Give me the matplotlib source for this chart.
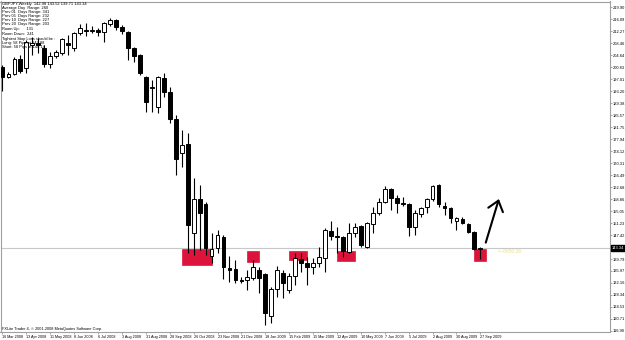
import matplotlib
matplotlib.use("Agg")
import matplotlib.pyplot as plt
from matplotlib.patches import Rectangle

plt.rcParams['font.family'] = ['Liberation Sans', 'DejaVu Sans']

# ---- data (weekly GBPJPY candles, week index 0 = 16 Mar 2008) ----
opens = [201.08, 197.89, 198.84, 203.63, 200.76, 208.10, 208.73, 207.14, 202.03, 204.59,
         205.54, 208.73, 207.14, 211.92, 212.88, 212.56, 212.88, 212.24, 214.79, 216.07,
         213.84, 212.24, 207.14, 204.90, 197.89, 194.38, 188.32, 197.60, 193.00, 184.50,
         173.64, 176.51, 148.12, 158.97, 157.37, 140.79, 143.34, 146.85, 136.96, 136.64,
         133.13, 133.13, 133.77, 136.32, 135.04, 121.65, 130.26, 135.36, 129.94, 134.41,
         139.83, 138.55, 137.28, 138.55, 140.15, 148.76, 147.17, 146.85, 142.06, 148.12,
         150.36, 143.66, 150.99, 154.50, 158.01, 162.16, 159.29, 157.69, 157.37, 150.04,
         154.18, 156.42, 158.97, 163.43, 156.74, 156.10, 151.95, 152.59, 150.99, 148.44,
         142.98]
highs = [201.72, 199.48, 204.27, 204.90, 209.69, 210.65, 210.33, 208.10, 205.86, 206.50,
         210.33, 211.29, 212.24, 214.79, 215.11, 214.16, 213.52, 215.43, 216.71, 216.39,
         214.48, 212.50, 207.46, 205.20, 198.20, 196.93, 198.20, 199.00, 194.50, 185.50,
         180.98, 180.02, 165.67, 163.43, 157.90, 148.12, 149.08, 147.40, 140.79, 139.51,
         134.09, 136.32, 139.51, 137.28, 135.40, 130.90, 137.60, 136.32, 135.36, 141.74,
         141.74, 140.47, 140.15, 143.66, 149.72, 151.95, 150.04, 147.20, 151.31, 151.31,
         150.70, 151.50, 156.42, 159.29, 163.12, 162.48, 160.25, 159.61, 157.60, 155.46,
         156.42, 159.29, 163.43, 163.60, 158.01, 156.30, 153.23, 153.23, 151.31, 148.80,
         143.52]
lows = [193.42, 197.57, 198.53, 199.16, 199.16, 204.90, 205.54, 201.08, 200.76, 203.95,
        204.90, 204.90, 206.18, 211.29, 210.97, 211.92, 210.97, 209.05, 214.16, 212.88,
        211.60, 203.31, 202.67, 198.53, 186.72, 186.72, 186.40, 191.50, 183.00, 166.63,
        169.18, 141.74, 141.11, 142.70, 141.11, 138.55, 141.74, 133.45, 132.49, 132.17,
        132.17, 129.94, 133.13, 128.98, 118.78, 119.41, 127.71, 127.39, 128.98, 131.54,
        135.68, 131.54, 135.04, 137.28, 135.68, 145.89, 141.74, 140.47, 141.74, 146.85,
        143.66, 143.40, 148.12, 153.87, 157.69, 155.46, 154.50, 156.74, 147.17, 147.49,
        153.23, 154.50, 158.33, 156.42, 153.87, 151.31, 149.08, 150.99, 148.12, 142.70,
        139.71]
closes = [197.89, 198.84, 203.63, 199.80, 209.05, 208.73, 208.10, 202.03, 204.59, 205.86,
          210.01, 208.10, 211.92, 213.52, 212.56, 212.88, 212.24, 215.11, 216.07, 213.84,
          212.56, 207.14, 204.59, 199.16, 189.91, 194.70, 197.89, 193.00, 184.50, 171.73,
          176.20, 150.67, 158.97, 154.50, 143.34, 143.02, 147.49, 137.28, 136.32, 133.13,
          132.81, 134.09, 137.28, 133.77, 122.60, 130.26, 136.32, 132.17, 134.41, 140.15,
          138.55, 137.28, 138.55, 140.47, 149.08, 147.17, 146.85, 142.38, 148.12, 150.04,
          144.30, 151.31, 154.50, 158.01, 162.16, 159.29, 157.69, 157.37, 150.04, 154.50,
          156.10, 158.97, 163.12, 157.37, 156.10, 152.91, 152.91, 151.31, 148.44, 143.10,
          143.34]

date_labels = ["16 Mar 2008", "13 Apr 2008", "11 May 2008", "8 Jun 2008", "6 Jul 2008",
               "3 Aug 2008", "31 Aug 2008", "28 Sep 2008", "26 Oct 2008", "23 Nov 2008",
               "21 Dec 2008", "18 Jan 2009", "15 Feb 2009", "15 Mar 2009", "12 Apr 2009",
               "10 May 2009", "7 Jun 2009", "5 Jul 2009", "2 Aug 2009", "30 Aug 2009",
               "27 Sep 2009"]
label_step = 4

price_ticks = [219.90, 216.09, 212.27, 208.46, 204.64, 200.83, 197.01, 193.20, 189.38,
               185.57, 181.75, 177.94, 174.12, 170.31, 166.49, 162.68, 158.86, 155.05,
               151.23, 147.42, 139.79, 135.97, 132.16, 128.34, 124.53, 120.71, 116.90]

# support zones: start week, end week, low price, high price
zone_start = [30, 41, 48, 56, 79]
zone_end = [35, 43, 51, 59, 81]
zone_low = [137.92, 138.97, 139.51, 139.19, 139.19]
zone_high = [143.02, 142.47, 142.38, 142.38, 143.02]

bid_price = 143.34
header = "GBPJPY,Weekly  142.98 143.52 139.71 143.34"
info_lines = ["Average Day  Range: 260", "Prev 01  Days Range: 341",
              "Prev 05  Days Range: 232", "Prev 10  Days Range: 227",
              "Prev 20  Days Range: 203", "Room Up:      131", "Room Down:  241",
              "Tightest Stop Loss should be :", "Long: 58 Pips at 143.88",
              "Short: 58 Pips at 144.14"]
footer = "FXLite Trader 4, \u00a9 2001-2008 MetaQuotes Software Corp."
timer_text = "<--6650:36"
timer_pos = (82.9, 142.2)
arrow_tail = (80.9, 145.0)
arrow_tip = (83.1, 158.9)

# ---- figure ----
W, H = 625, 340
fig = plt.figure(figsize=(W / 100, H / 100), dpi=100)
fig.patch.set_facecolor("white")
left_px, right_px, top_px, bottom_px = 0.5, 610, 1.5, 332
ax = fig.add_axes([left_px / W, 1 - bottom_px / H, (right_px - left_px) / W,
                   (bottom_px - top_px) / H])
ax.set_facecolor("white")

body_w = 0.64
for i, (o, h, l, c) in enumerate(zip(opens, highs, lows, closes)):
    ax.vlines(i, l, h, color="black", lw=0.8, zorder=3)
    bull = c >= o
    bottom = min(o, c)
    height = max(abs(c - o), 0.12)
    ax.add_patch(Rectangle((i - body_w / 2, bottom), body_w, height,
                           facecolor="white" if bull else "black",
                           edgecolor="black", lw=0.7, zorder=4))

for s, e, lo, hi in zip(zone_start, zone_end, zone_low, zone_high):
    ax.add_patch(Rectangle((s, lo), e - s, hi - lo, facecolor="#dc143c",
                           edgecolor="#dc143c", lw=0.5, zorder=2))

ax.axhline(bid_price, color="#c8c8c8", lw=0.8, zorder=1)

ax.annotate("", xy=arrow_tip, xytext=arrow_tail,
            arrowprops=dict(arrowstyle="->,head_length=0.7,head_width=0.55",
                            color="black", lw=1.5, shrinkA=0, shrinkB=0),
            zorder=6)
ax.text(timer_pos[0], timer_pos[1], timer_text, color="#ece27c", fontsize=3.6,
        ha="left", va="center", zorder=6)

ax.set_xlim(-0.33, 101.7)
ax.set_ylim(116.54, 221.81)

# x axis
xt = [k * label_step for k in range(len(date_labels))]
ax.set_xticks(xt)
ax.set_xticklabels(date_labels, fontsize=2.7)
for lbl in ax.get_xticklabels():
    lbl.set_horizontalalignment("left")
ax.tick_params(axis="x", length=1.5, width=0.5, pad=0.8, colors="black",
               color="#808080")

# y axis on right
ax.yaxis.tick_right()
ax.set_yticks(price_ticks)
ax.set_yticklabels([f"{v:.2f}" for v in price_ticks], fontsize=2.9)
ax.tick_params(axis="y", length=1.5, width=0.5, pad=0.8, color="#808080")

ax.text(1.003, bid_price, f"{bid_price:.2f}", transform=ax.get_yaxis_transform(),
        fontsize=2.9, color="white", ha="left", va="center", zorder=10,
        bbox=dict(boxstyle="square,pad=0.25", fc="black", ec="black"),
        clip_on=False)

for sp in ax.spines.values():
    sp.set_color("#a0a0a0")
    sp.set_linewidth(0.8)

# info text
fig.text(2 / W, 1 - 3.5 / H, header, fontsize=2.9, ha="left", va="center")
ys = [7.5, 11.7, 16, 20.2, 24.4, 29.3, 33.7, 38.7, 43, 47.3]
for yy, t in zip(ys, info_lines):
    fig.text(2 / W, 1 - yy / H, t, fontsize=2.9, ha="left", va="center")
fig.text(2 / W, 1 - 329.3 / H, footer, fontsize=2.8, ha="left", va="center")

fig.savefig("out.png", dpi=100, facecolor="white")
